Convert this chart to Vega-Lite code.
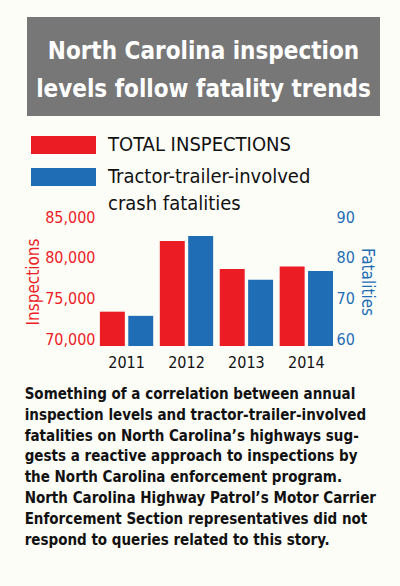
{
  "$schema": "https://vega.github.io/schema/vega-lite/v6.json",
  "background": "#fdfdf8",
  "padding": {"left": 24, "top": 17, "right": 23, "bottom": 38},
  "spacing": 19,
  "resolve": {"scale": {"color": "independent"}, "legend": {"color": "independent"}},
  "vconcat": [
    {
      "width": 353,
      "height": 99,
      "view": {"fill": "#777777", "stroke": null},
      "data": {"values": [{"heading": "North Carolina inspection\nlevels follow fatality trends"}]},
      "mark": {"type": "text", "color": "white", "fontWeight": "bold", "fontSize": 24, "lineBreak": "\n", "lineHeight": 38, "baseline": "middle", "dy": -15},
      "encoding": {"text": {"field": "heading"}}
    },
    {
      "width": 353,
      "height": 129,
      "data": {"values": [
        {"year": "2011", "inspections": 73360, "fatalities": 65.7},
        {"year": "2012", "inspections": 82050, "fatalities": 85.3},
        {"year": "2013", "inspections": 78600, "fatalities": 74.6},
        {"year": "2014", "inspections": 78900, "fatalities": 76.7}
      ]},
      "title": {
        "text": [
          "Something of a correlation between annual",
          "inspection levels and tractor-trailer-involved",
          "fatalities on North Carolina’s highways sug-",
          "gests a reactive approach to inspections by",
          "the North Carolina enforcement program.",
          "North Carolina Highway Patrol’s Motor Carrier",
          "Enforcement Section representatives did not",
          "respond to queries related to this story."
        ],
        "orient": "bottom",
        "anchor": "start",
        "frame": "bounds",
        "offset": 17,
        "fontSize": 15,
        "fontWeight": "bold",
        "lineHeight": 20.8,
        "color": "#111111"
      },
      "encoding": {
        "x": {
          "field": "year",
          "type": "nominal",
          "scale": {"paddingInner": 0.11, "paddingOuter": 1.072, "align": 0.608},
          "axis": {"title": null, "labelAngle": 0, "labelFontSize": 16, "labelColor": "#111111", "domain": false, "ticks": false, "labelPadding": 8}
        }
      },
      "layer": [
        {
          "mark": {"type": "bar"},
          "encoding": {
            "xOffset": {"datum": "TOTAL INSPECTIONS", "scale": {"domain": ["TOTAL INSPECTIONS", "Tractor-trailer-involved crash fatalities"], "paddingInner": 0.12, "paddingOuter": 0}},
            "y": {
              "field": "inspections",
              "type": "quantitative",
              "scale": {"domain": [69140, 85000], "nice": false, "zero": false},
              "axis": {"offset": -73, "title": "Inspections", "titleColor": "#ec1c24", "titleFontSize": 17, "titleFontWeight": "normal", "titlePadding": 2, "labelColor": "#ec1c24", "labelFontSize": 16, "labelPadding": 5, "labelFlush": false, "values": [70000, 75000, 80000, 85000], "format": ",d", "grid": false, "domain": false, "ticks": false}
            },
            "y2": {"datum": 69140},
            "color": {
              "datum": "TOTAL INSPECTIONS",
              "scale": {"domain": ["TOTAL INSPECTIONS", "Tractor-trailer-involved crash fatalities"], "range": ["#ec1c24", "#1f6db5"]},
              "legend": {
                "orient": "none",
                "legendX": 26.5,
                "legendY": -82,
                "title": null,
                "symbolType": "M-3.25,-0.9H3.25V0.9H-3.25Z",
                "symbolSize": 400,
                "symbolStrokeWidth": 0,
                "symbolOpacity": 1,
                "labelFontSize": 20,
                "labelColor": "#111111",
                "labelLimit": 400,
                "labelOffset": 34.5,
                "rowPadding": 12,
                "labelExpr": "datum.label == 'Tractor-trailer-involved crash fatalities' ? ['Tractor-trailer-involved', 'crash fatalities'] : datum.label",
                "encode": {"labels": {"update": {"lineHeight": {"value": 27}}}}
              }
            }
          }
        },
        {
          "mark": {"type": "bar"},
          "encoding": {
            "xOffset": {"datum": "Tractor-trailer-involved crash fatalities"},
            "y": {
              "field": "fatalities",
              "type": "quantitative",
              "scale": {"domain": [58.28, 90], "nice": false, "zero": false},
              "axis": {"orient": "right", "offset": -46, "title": "Fatalities", "titleColor": "#1f6db5", "titleFontSize": 17, "titleFontWeight": "normal", "titlePadding": 3, "labelColor": "#1f6db5", "labelFontSize": 16, "labelPadding": 2, "labelFlush": false, "values": [60, 70, 80, 90], "grid": false, "domain": false, "ticks": false}
            },
            "y2": {"datum": 58.28},
            "color": {"datum": "Tractor-trailer-involved crash fatalities"}
          }
        }
      ],
      "resolve": {"scale": {"y": "independent"}}
    }
  ],
  "config": {
    "font": "DejaVu Sans Condensed, Liberation Sans, sans-serif",
    "view": {"stroke": null}
  }
}
